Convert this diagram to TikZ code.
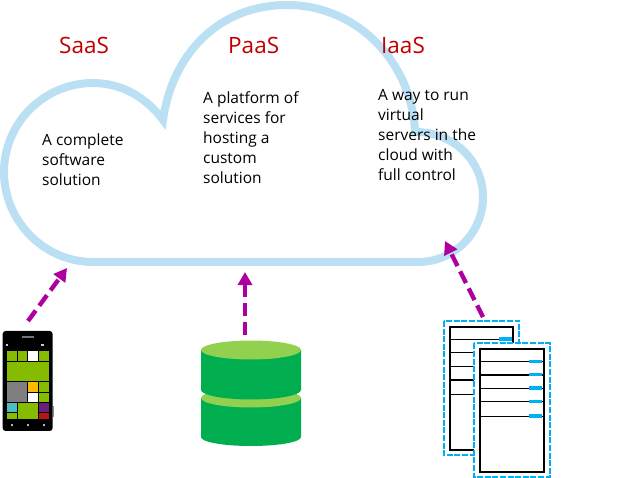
\documentclass[tikz,border=0pt]{standalone}
\usepackage{fontspec}
\setmainfont{Open Sans}
\usetikzlibrary{arrows.meta}
\definecolor{cloudblue}{HTML}{BBE0F3}
\definecolor{headred}{HTML}{C00000}
\definecolor{arrowpurple}{HTML}{AE009F}
\definecolor{tilegreen}{HTML}{86BC00}
\definecolor{tileteal}{HTML}{4BBFC3}
\definecolor{tilepurple}{HTML}{68217A}
\definecolor{tilered}{HTML}{BA141A}
\definecolor{tileorange}{HTML}{FFB900}
\definecolor{tilegray}{HTML}{7F7F7F}
\definecolor{dbdark}{HTML}{00AD4F}
\definecolor{dblight}{HTML}{92D050}
\definecolor{srvblue}{HTML}{00B0F0}
\tikzset{
  heading/.style={anchor=base west,inner sep=0pt,text=headred,font=\fontsize{22.5}{26}\selectfont},
  body/.style={anchor=north west,inner sep=0pt,align=left,font=\fontsize{15.5}{20}\selectfont},
  link/.style={draw=arrowpurple,line width=4.4pt,dash pattern=on 13pt off 6pt,-{Triangle[length=13pt,width=14pt,fill=arrowpurple,sep=0pt]}},
  dashbox/.style={draw=srvblue,fill=white,line width=2pt,dash pattern=on 6pt off 1.6pt},
  rack/.style={draw=black,line width=1.7pt,fill=white},
  rackline/.style={draw=black,line width=1.5pt},
  pill/.style={fill=srvblue},
}
\newcommand{\tile}[5]{\fill[#1] (#2,#4) rectangle (#3,#5);}
\begin{document}
\begin{tikzpicture}[x=1pt,y=-1pt]
\useasboundingbox (0,0) rectangle (626,478);
% cloud
\draw[cloudblue,line width=8pt,miter limit=10,line join=miter]
  (163,120) .. controls (146,97) and (121,83) .. (93,83)
  .. controls (44,83) and (4,123) .. (4,172)
  .. controls (4,221) and (44,262) .. (93,262)
  -- (418,262)
  .. controls (454,262) and (483,233) .. (483,197)
  .. controls (483,161) and (454,132) .. (415,132)
  .. controls (412,62) and (357,5) .. (287,5)
  .. controls (218,5) and (172,55) .. cycle;
% headings
\node[heading] (saas) at (59,54) {SaaS};
\node[heading] (paas) at (228,54) {PaaS};
\node[heading] (iaas) at (381,54) {IaaS};
% bodies
\node[body] (saastext) at (42,134) {A complete\\software\\solution};
\node[body] (paastext) at (203,91) {A platform of\\services for\\hosting a\\custom\\solution};
\node[body] (iaastext) at (378,89) {A way to run\\virtual\\servers in the\\cloud with\\full control};
% phone
\begin{scope}[shift={(0,320)},x=0.3333pt,y=-0.3333pt]
  \fill[black,rounded corners=3pt] (8,33) rectangle (158,333);
  \fill[black!45] (158,258) rectangle (161,290);
  \fill[black!55] (67,48) rectangle (102,53);
  \fill[white!80!black] (18,72) rectangle (24,77);
  \fill[white!80!black] (122,72) rectangle (131,77);
  \fill[white!70!black] (32,313) rectangle (38,318);
  \fill[white!70!black] (80,313) rectangle (87,318);
  \fill[white!70!black] (128,313) rectangle (134,318);
  \tile{tilegreen}{20}{50}{93}{122}
  \tile{tilegreen}{53}{82}{93}{122}
  \tile{white}{85}{115}{93}{122}
  \tile{tilegreen}{117}{146}{93}{122}
  \tile{tilegreen}{20}{146}{125}{183}
  \tile{tilegray}{20}{82}{186}{247}
  \tile{tileorange}{85}{115}{186}{216}
  \tile{tilegreen}{117}{146}{186}{216}
  \tile{white}{85}{115}{218}{247}
  \tile{tilegreen}{117}{146}{218}{247}
  \tile{tileteal}{20}{50}{249}{276}
  \tile{tilegreen}{53}{115}{249}{297}
  \tile{tilepurple}{117}{146}{249}{276}
  \tile{tilegreen}{20}{50}{279}{297}
  \tile{tilered}{117}{146}{279}{297}
\end{scope}
% database
\path[fill=dbdark] (201,398) -- (201,437) .. controls (201,442) and (223,446) .. (251,446)
  .. controls (279,446) and (301,442) .. (301,437) -- (301,398) -- cycle;
\fill[dblight] (251,398) ellipse [x radius=50pt,y radius=9.5pt];
\path[fill=dbdark] (201,350) -- (201,390) .. controls (201,395) and (223,399.5) .. (251,399.5)
  .. controls (279,399.5) and (301,395) .. (301,390) -- (301,350) -- cycle;
\fill[dblight] (251,350) ellipse [x radius=50pt,y radius=9.5pt];
% servers
\begin{scope}[shift={(430,310)},x=0.3333pt,y=-0.3333pt]
  \draw[dashbox] (42,33) rectangle (268,435);
  \draw[rack] (61,50) rectangle (250,420);
  \foreach \yy in {89,128,170,210,253} {\draw[rackline] (61,\yy) -- (250,\yy);}
  \fill[pill] (207,82) rectangle (245,93);
  \draw[dashbox] (132,100) rectangle (360,501);
  \draw[rack] (150,116) rectangle (342,486);
  \foreach \yy in {155,195,235,275,319} {
    \draw[rackline] (150,\yy) -- (342,\yy);
    \fill[pill] (298,\yy-6) rectangle (336,\yy+4);
  }
\end{scope}
% connector ends
\coordinate (phonetop) at (28,321);
\coordinate (cloudsw) at (67,268);
\coordinate (dbtop) at (245,335);
\coordinate (cloudbottom) at (245,272);
\coordinate (rackstop) at (483,317);
\coordinate (cloudse) at (445,241);
\draw[link] (phonetop) -- (cloudsw);
\draw[link] (dbtop) -- (cloudbottom);
\draw[link] (rackstop) -- (cloudse);
\end{tikzpicture}
\end{document}
